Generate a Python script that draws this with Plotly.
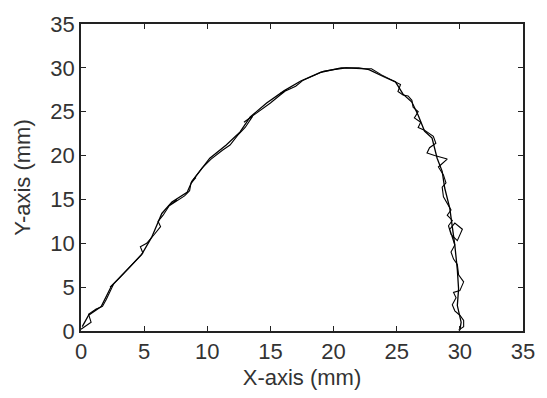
import plotly.graph_objects as go

# Desired (smooth) trajectory
ref_x = [0.1, 0.6, 1.6, 2.4, 3.2, 4.8, 5.6, 6.4, 7.2, 8.4, 8.8, 10.2, 11.5, 12.6, 13.4,
         14.7, 16.1, 17.4, 19.0, 20.6, 22.0, 22.8, 24.1, 24.9, 25.5, 26.2, 26.7, 27.2,
         27.8, 28.2, 28.6, 28.8, 29.2, 29.4, 29.6, 29.8, 29.9, 29.8, 30.1, 30.0]
ref_y = [0.5, 1.8, 2.8, 5.1, 6.3, 8.7, 10.7, 13.4, 14.7, 15.8, 17.1, 19.7, 21.2, 22.7, 24.4,
         26.0, 27.4, 28.5, 29.5, 30.0, 30.0, 29.8, 28.9, 28.4, 27.0, 26.1, 24.6, 22.8,
         22.0, 19.7, 18.2, 16.3, 14.0, 12.0, 9.8, 7.0, 4.8, 2.9, 1.0, 0.1]

# Measured (jagged) trajectory
act_x = [0.0, 0.8, 0.6, 1.2, 1.7, 2.0, 2.6, 2.3, 3.0, 3.8, 4.9, 4.7, 5.2, 5.8, 6.3, 6.1,
         6.5, 7.0, 7.6, 6.9, 8.2, 8.6, 8.7, 9.1, 8.7, 9.6, 10.3, 11.2, 11.8, 12.4, 13.0,
         13.6, 12.9, 14.3, 15.0, 15.6, 16.3, 15.8, 17.0, 17.6, 18.3, 19.2, 20.0, 21.0,
         22.2, 23.0, 23.8, 24.6, 25.3, 25.1, 25.5, 25.9, 26.2, 26.3, 26.7, 26.4, 26.9,
         26.7, 27.2, 27.9, 28.1, 27.6, 27.4, 28.0, 29.0, 28.3, 28.7, 28.9, 28.6, 28.7,
         29.0, 29.3, 29.0, 29.4, 29.1, 29.3, 29.8, 30.2, 29.6, 29.2, 29.6, 29.3, 29.5,
         29.8, 29.9, 30.3, 30.0, 29.5, 29.7, 29.4, 29.6, 30.0, 30.3, 30.3, 29.9]
act_y = [0.2, 1.0, 1.9, 2.5, 2.8, 3.6, 5.4, 5.0, 6.0, 7.2, 8.9, 9.6, 10.0, 11.0, 11.9, 12.5,
         13.2, 14.3, 15.0, 14.2, 15.4, 16.0, 16.8, 17.5, 16.9, 18.6, 19.6, 20.6, 21.2, 22.3,
         23.2, 24.5, 23.8, 25.3, 26.0, 26.7, 27.5, 27.1, 27.9, 28.6, 29.0, 29.6, 29.8,
         30.0, 29.9, 29.9, 29.2, 28.6, 28.1, 27.3, 26.9, 26.8, 26.3, 25.5, 25.0, 24.3,
         23.8, 23.2, 22.9, 22.2, 21.4, 20.9, 20.3, 20.0, 19.6, 18.7, 17.8, 16.9, 16.4,
         15.3, 14.6, 13.8, 13.2, 12.6, 12.0, 11.0, 10.3, 11.6, 12.3, 11.6, 9.8, 9.0, 8.2,
         7.6, 6.4, 5.6, 4.6, 4.4, 3.8, 3.0, 2.3, 1.8, 1.2, 0.5, 0.1]

x_ticks = [0, 5, 10, 15, 20, 25, 30, 35]
y_ticks = [0, 5, 10, 15, 20, 25, 30, 35]

FONT = "Liberation Sans, Arial, sans-serif"
TXT = "#333"

fig = go.Figure()
fig.add_trace(go.Scatter(x=ref_x, y=ref_y, mode="lines",
                         line=dict(color="black", width=1.3), showlegend=False))
fig.add_trace(go.Scatter(x=act_x, y=act_y, mode="lines",
                         line=dict(color="black", width=1.1), showlegend=False))

axis_common = dict(
    showgrid=False, zeroline=False, showline=True, linecolor="#222", linewidth=1.5,
    mirror="ticks", ticks="inside", ticklen=5, tickwidth=1.2, tickcolor="#222",
    tickfont=dict(family=FONT, size=22, color=TXT),
)

fig.update_layout(
    width=547, height=398,
    margin=dict(l=81, r=13, t=21, b=64),
    paper_bgcolor="white", plot_bgcolor="white",
    xaxis=dict(range=[0, 35], tickvals=x_ticks,
               title=dict(text="X-axis (mm)", font=dict(family=FONT, size=22, color=TXT),
                          standoff=6),
               **axis_common),
    yaxis=dict(range=[0, 35], tickvals=y_ticks,
               title=dict(text="Y-axis (mm)", font=dict(family=FONT, size=22, color=TXT),
                          standoff=14),
               **axis_common),
)

fig.write_html("out.html")
